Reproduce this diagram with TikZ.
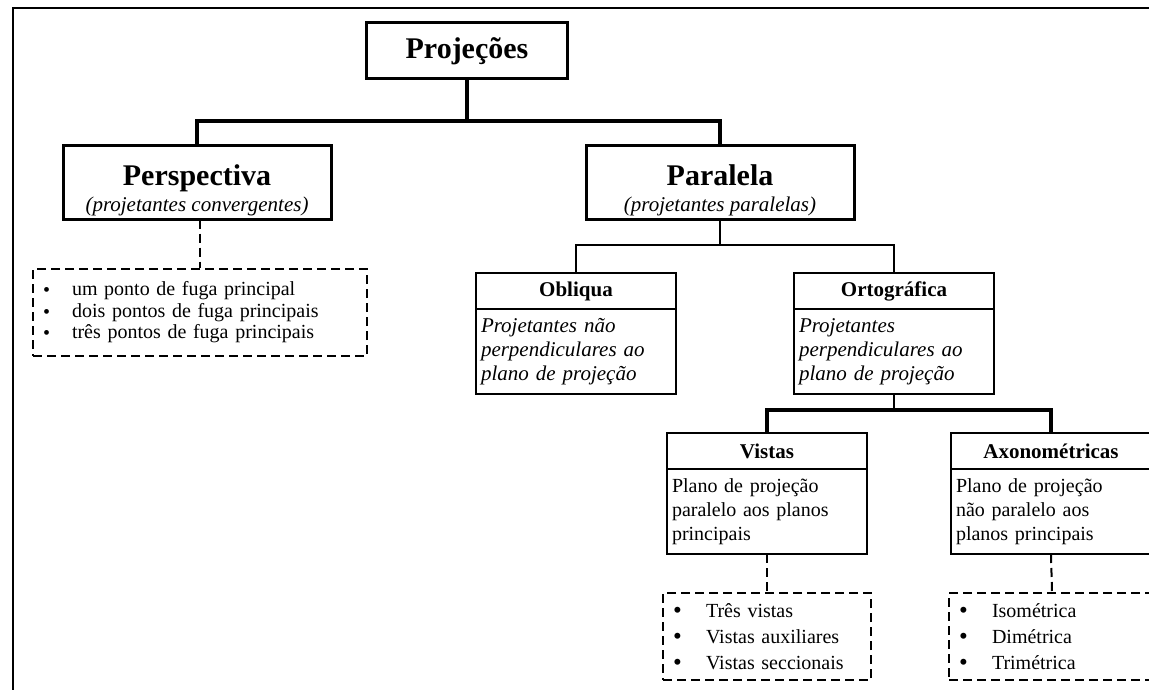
\documentclass[tikz,border=0pt]{standalone}
\usepackage{fontspec}
\setmainfont{Liberation Serif}
\usepackage{tikz}
\usetikzlibrary{positioning}

\newcommand{\bitem}[3][1]{\makebox[#2][l]{\raisebox{-0.8pt}[0pt][0pt]{\scalebox{#1}{\textbullet}}}#3}

\begin{document}
\begin{tikzpicture}[x=1pt, y=-1pt,
    mainbox/.style={draw, line width=3pt, outer sep=0pt, minimum width=#1, align=center},
    headbox/.style={draw, line width=2pt, outer sep=0pt, minimum width=200pt, minimum height=36pt, anchor=north, font=\fontsize{21}{24}\selectfont\bfseries},
    bodybox/.style={draw, line width=2pt, outer sep=0pt, inner xsep=5pt, text width=190pt, minimum height=85pt, align=left, font=\fontsize{20}{24}\selectfont},
    itbody/.style={bodybox, font=\fontsize{21}{24}\selectfont\itshape},
    listbox/.style 2 args={draw, line width=2pt, dash pattern=on 9pt off 5pt, inner xsep=10pt, text width=#1, minimum height=87pt, align=left, font=\fontsize{20}{#2}\selectfont},
    link/.style={line width=3.5pt},
    thinlink/.style={line width=2pt},
    dashlink/.style={line width=2pt, dash pattern=on 9pt off 5pt}]

    % Page and outer frame
    \useasboundingbox (0,0) rectangle (1149,690);
    \clip (0,0) rectangle (1149,690);
    \draw[line width=2.5pt] (13,700) -- (13,8) -- (1160,8);

    % Levels of the connector bars
    \coordinate (B1) at (0,121);
    \coordinate (B2) at (0,245);
    \coordinate (B3) at (0,410);

    % Top boxes
    \node[mainbox=201pt, minimum height=56pt, font=\fontsize{30}{32}\selectfont\bfseries] (proj) at (467,51) {Projeções};
    \node[mainbox=268pt, minimum height=71pt, font=\fontsize{21}{26}\selectfont\itshape] (persp) at (197,182.5)
        {\rule{0pt}{37pt}{\fontsize{30}{30}\selectfont\bfseries\upshape Perspectiva}\\ (projetantes convergentes)};
    \node[mainbox=268pt, minimum height=71pt, font=\fontsize{21}{26}\selectfont\itshape] (par) at (720,182.5)
        {\rule{0pt}{37pt}{\fontsize{30}{30}\selectfont\bfseries\upshape Paralela}\\ (projetantes paralelas)};

    % Oblique and orthographic
    \node[headbox] (obl) at (576,273) {Obliqua};
    \node[itbody, below=0pt of obl] (oblb) {Projetantes não\\ perpendiculares ao\\ plano de projeção};
    \node[headbox] (ort) at (894,273) {Ortográfica};
    \node[itbody, below=0pt of ort] (ortb) {Projetantes\\ perpendiculares ao\\ plano de projeção};

    % Views and axonometric
    \node[headbox] (vis) at (767,433) {Vistas};
    \node[bodybox, below=0pt of vis] (visb) {Plano de projeção\\ paralelo aos planos\\ principais};
    \node[headbox] (axo) at (1051,433) {Axonométricas};
    \node[bodybox, below=0pt of axo] (axob) {Plano de projeção\\ não paralelo aos\\ planos principais};

    % Dashed lists
    \node[listbox={314pt}{21.5pt}] (perlist) at (200,312.5)
        {\bitem{29pt}{um ponto de fuga principal}\\ \bitem{29pt}{dois pontos de fuga principais}\\ \bitem{29pt}{três pontos de fuga principais}};
    \node[listbox={188pt}{26pt}] (vislist) at (767,636.5)
        {\bitem[1.25]{33pt}{Três vistas}\\ \bitem[1.25]{33pt}{Vistas auxiliares}\\ \bitem[1.25]{33pt}{Vistas seccionais}};
    \node[listbox={186pt}{26pt}] (axolist) at (1052,636.5)
        {\bitem[1.25]{33pt}{Isométrica}\\ \bitem[1.25]{33pt}{Dimétrica}\\ \bitem[1.25]{33pt}{Trimétrica}};

    % Connectors
    \draw[link] (proj.south) -- (proj.south |- B1);
    \draw[link] (persp.north) -- (persp.north |- B1) -- (par.north |- B1) -- (par.north);
    \draw[dashlink] (perlist.north |- persp.south) -- (perlist.north);
    \draw[thinlink] (par.south) -- (par.south |- B2);
    \draw[thinlink] (obl.north) -- (obl.north |- B2) -- (ort.north |- B2) -- (ort.north);
    \draw[thinlink] (ortb.south) -- (ortb.south |- B3);
    \draw[link] (vis.north) -- (vis.north |- B3) -- (axo.north |- B3) -- (axo.north);
    \draw[dashlink] (visb.south) -- (vislist.north);
    \draw[dashlink] (axob.south) -- (axolist.north);
\end{tikzpicture}
\end{document}
